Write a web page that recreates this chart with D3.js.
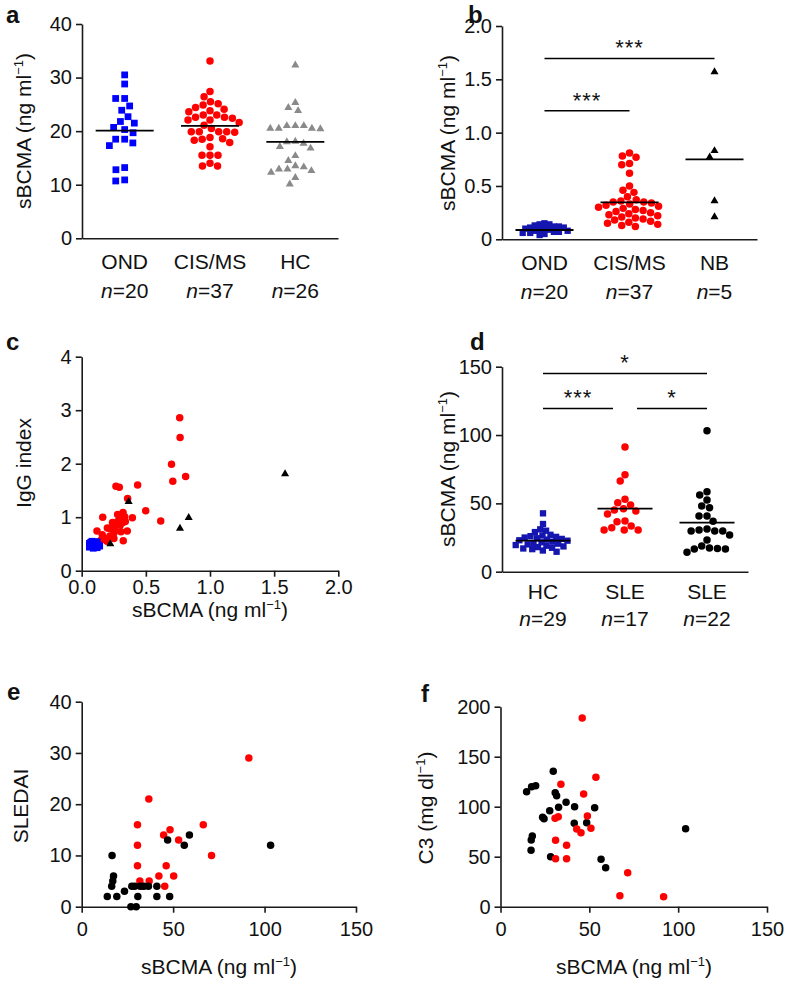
<!DOCTYPE html>
<html><head><meta charset="utf-8">
<script src="https://cdn.jsdelivr.net/npm/d3@7"></script>
<style>
body{margin:0;background:#fff}
svg text{font-family:"Liberation Sans",Arial,Helvetica,sans-serif;fill:#111}
</style>
</head><body>
<svg id="fig" width="788" height="981"></svg>
<script>
// ---------------- DATA ----------------
// Panel a
const aCategories = ["OND","CIS/MS","HC"];
const aN = ["20","37","26"];
const aOND = [30.5,28.8,26.1,26.1,24.7,23.9,22.7,21.5,21.8,20.3,20.7,19.7,18.5,18.5,17.8,17.3,13.2,12.8,10.7,10.9];
const aCIS = [33.1,27.4,26.4,25.1,25.5,24.9,24.4,24.1,23.8,23.6,23.0,23.0,22.6,22.4,22.1,22.1,22.6,21.1,21.6,20.5,19.9,19.9,19.9,19.9,19.8,18.8,18.5,18.3,18.6,17.9,17.1,15.5,15.5,15.5,14.0,13.5,13.5];
const aHC = [32.3,25.3,24.4,23.8,21.0,21.0,20.5,20.4,20.5,20.5,21.0,18.0,17.7,18.1,17.1,16.8,15.4,14.5,13.5,12.9,12.6,12.3,12.9,13.3,11.3,10.1];
const aLines = [20.1,21.0,18.0];
const aTicks = [0,10,20,30,40];

// Panel b
const bCategories = ["OND","CIS/MS","NB"];
const bN = ["20","37","5"];
const bOND = [0.15,0.14,0.14,0.13,0.12,0.12,0.11,0.11,0.10,0.10,0.09,0.09,0.08,0.08,0.07,0.07,0.06,0.06,0.05,0.04];
const bCIS = [0.81,0.78,0.77,0.71,0.70,0.62,0.50,0.46,0.44,0.40,0.37,0.36,0.35,0.35,0.34,0.33,0.32,0.31,0.30,0.29,0.28,0.27,0.26,0.25,0.24,0.23,0.22,0.21,0.20,0.19,0.18,0.17,0.16,0.15,0.14,0.13,0.12];
const bNB = [1.57,0.83,0.77,0.36,0.21];
const bLines = [0.087,0.347,0.75];
const bTicks = [0,0.5,1.0,1.5,2.0];
const bTickLabels = ["0","0.5","1.0","1.5","2.0"];
const bSig = [{from:0,to:1,label:"***",level:1.205},{from:0,to:2,label:"***",level:1.696}];

// Panel c
const cCisX = [0.764,0.767,0.70,0.71,0.81,0.267,0.293,0.436,0.358,0.499,0.616,0.322,0.335,0.395,0.164,0.28,0.30,0.34,0.247,0.215,0.306,0.355,0.119,0.16,0.251,0.324,0.197,0.15,0.20,0.25,0.30,0.22,0.18,0.28,0.32,0.26,0.24];
const cCisY = [2.86,2.49,1.99,1.67,1.76,1.58,1.56,1.60,1.35,1.12,0.93,1.09,1.01,0.99,1.00,0.92,0.95,0.92,0.84,0.79,0.73,0.74,0.74,0.67,0.60,0.56,0.55,0.57,0.80,0.70,0.85,0.65,0.60,1.05,0.90,0.75,0.90];
const cOndX = [0.06,0.07,0.08,0.09,0.10,0.11,0.12,0.13,0.07,0.08,0.09,0.10,0.11,0.12,0.06,0.08,0.10,0.12,0.14,0.09];
const cOndY = [0.44,0.49,0.47,0.51,0.46,0.49,0.45,0.48,0.53,0.55,0.42,0.54,0.52,0.43,0.51,0.45,0.50,0.54,0.46,0.48];
const cNbX = [0.366,0.834,0.766,1.585,0.223];
const cNbY = [1.29,0.99,0.79,1.81,0.50];
const cXTicks = [0,0.5,1.0,1.5,2.0];
const cXTickLabels = ["0.0","0.5","1.0","1.5","2.0"];
const cYTicks = [0,1,2,3,4];
const cYTickLabels = ["0","1","2","3","4"];

// Panel d
const dCategories = ["HC","SLE","SLE"];
const dN = ["29","17","22"];
const dHC = [42.7,34.9,31.0,30.0,29.0,27.0,26.5,26.0,25.5,25.0,24.5,24.0,23.5,23.0,22.7,22.0,21.5,21.0,20.5,20.0,19.5,19.0,18.5,18.0,17.5,17.0,16.5,15.5,14.6];
const dSLE1 = [91.2,71.0,66.3,53.0,50.5,48.8,46.1,44.4,42.2,45.2,37.1,36.6,33.4,30.5,30.5,30.5,32.2];
const dSLE2 = [103.2,58.5,56.1,52.5,48.1,46.8,40.7,40.7,36.9,30.5,29.8,31.3,29.8,29.8,26.8,23.2,17.3,16.6,14.2,16.6,17.0,18.8];
const dLines = [22.7,46.1,35.9];
const dTicks = [0,50,100,150];
const dSig = [{from:0,to:2,label:"*",level:145.1},{from:0,to:1,label:"***",level:119.5},{from:1,to:2,label:"*",level:119.5}];

// Panel e (sBCMA vs SLEDAI)
const eRedX = [91.4,36.7,30.5,30.5,66.5,44.8,48.3,53.0,71.0,30.5,46.2,42.2,50.3,31.8,36.9,45.4,33.0];
const eRedY = [29,21,16,12,16,14,15,13,10,8,8,6,6,5,5,4,4];
const eBlackX = [16.6,17.4,17.0,16.4,14.0,19.2,23.4,27.4,32.0,36.5,41.1,30.7,41.1,48.1,26.9,29.8,47.0,56.1,58.9,103.3,29.0,34.0];
const eBlackY = [10,6,5,4,2,2,3,4,4,4,4,2,2,2,0,0,13,12,14,12,4,4];
const eXTicks = [0,50,100,150];
const eYTicks = [0,10,20,30,40];

// Panel f (sBCMA vs C3)
const fRedX = [46.0,53.7,34.0,46.8,48.9,30.7,32.5,42.9,45.3,50.9,31.0,37.2,31.0,37.2,71.6,67.2,91.8];
const fRedY = [188.7,129.4,122.4,112.7,90.7,88.4,90.0,77.7,74.0,78.4,66.4,61.4,48.0,48.0,34.0,11.0,10.0];
const fBlackX = [29.7,14.7,17.5,19.8,30.8,31.6,36.9,32.7,41.7,53.0,27.7,23.7,41.5,48.5,104.2,17.9,17.3,17.2,28.2,56.6,59.2,24.5];
const fBlackY = [135.4,115,120,121,114,111,104.4,99.4,100,99,96,89.4,83.4,84,78,70.7,66.7,56.4,50,47.4,39,88];
const fXTicks = [0,50,100,150];
const fYTicks = [0,50,100,150,200];

// ---------------- DRAWING ----------------
const svg = d3.select("#fig");
const BLUE = "#0000ff", NAVY = "#1515b0", RED = "#ff0000", GRAY = "#8a8a8a", BLACK = "#000";
const AX = "#1a1a1a";
const TICKFS = 20, LABFS = 21;

const sq = d3.symbol().type(d3.symbolSquare).size(46);
const sqS = d3.symbol().type(d3.symbolSquare).size(40);
const circ = d3.symbol().type(d3.symbolCircle).size(44);
const tri = d3.symbol().type(d3.symbolTriangle).size(28);

function styleAxis(g){
  g.selectAll(".domain").attr("stroke",AX).attr("stroke-width",1.6);
  g.selectAll(".tick line").attr("stroke",AX).attr("stroke-width",1.6);
  g.selectAll(".tick text").attr("font-size",TICKFS).attr("font-family",'"Liberation Sans",Arial,sans-serif').attr("fill","#111");
}
function yAxis(y, x0, ticks, labels){
  const ax = d3.axisLeft(y).tickValues(ticks).tickSize(6).tickPadding(4).tickSizeOuter(0);
  if(labels) ax.tickFormat((d,i)=>labels[i]);
  const g = svg.append("g").attr("transform",`translate(${x0},0)`).call(ax);
  styleAxis(g); return g;
}
function xAxisLinear(x, y0, ticks, labels, pad){
  const ax = d3.axisBottom(x).tickValues(ticks).tickSize(6).tickPadding(pad).tickSizeOuter(0);
  if(labels) ax.tickFormat((d,i)=>labels[i]);
  const g = svg.append("g").attr("transform",`translate(0,${y0})`).call(ax);
  styleAxis(g); return g;
}
function xAxisPlain(x0,x1,y0){
  const s = d3.scaleLinear().range([x0,x1]);
  const g = svg.append("g").attr("transform",`translate(0,${y0})`).call(d3.axisBottom(s).tickValues([]).tickSizeOuter(0));
  styleAxis(g);
}
function letter(t,x,y){
  svg.append("text").attr("x",x).attr("y",y).attr("font-size",24).attr("font-weight","bold").text(t);
}
function yTitle(x,y,parts){
  const t = svg.append("text").attr("transform",`translate(${x},${y}) rotate(-90)`).attr("text-anchor","middle").attr("font-size",LABFS);
  addParts(t,parts);
}
function xTitle(x,y,parts){
  const t = svg.append("text").attr("x",x).attr("y",y).attr("text-anchor","middle").attr("font-size",LABFS);
  addParts(t,parts);
}
function addParts(t,parts){
  parts.forEach(p=>{
    if(p.sup){ t.append("tspan").attr("font-size",13).attr("dy",-8).text(p.sup); t.append("tspan").attr("dy",8).text(p.after||""); }
    else t.append("tspan").text(p.t);
  });
}
function catLabels(x, cats, ns, yA, yB){
  cats.forEach((c,i)=>{
    svg.append("text").attr("x",x(i)).attr("y",yA).attr("text-anchor","middle").attr("font-size",LABFS).text(c);
    const t = svg.append("text").attr("x",x(i)).attr("y",yB).attr("text-anchor","middle").attr("font-size",LABFS);
    t.append("tspan").attr("font-style","italic").text("n");
    t.append("tspan").text("="+ns[i]);
  });
}
function swarm(values, y, cx, d){
  const pts = values.map(v=>({v, y:y(v)})).sort((a,b)=>b.v-a.v);
  const placed = [];
  for(const p of pts){
    const cands = [0];
    for(const q of placed){
      const dy = p.y-q.y;
      if(Math.abs(dy)<d){ const dx=Math.sqrt(d*d-dy*dy); cands.push(q.dx+dx, q.dx-dx); }
    }
    cands.sort((a,b)=>Math.abs(a)-Math.abs(b)||a-b);
    for(const c of cands){
      if(placed.every(q=>(q.dx-c)*(q.dx-c)+(q.y-p.y)*(q.y-p.y)>=d*d-0.01)){ p.dx=c; break; }
    }
    placed.push(p);
  }
  return placed.map(p=>({x:cx+p.dx, y:p.y}));
}
function drawSwarm(values, y, cx, d, sym, color){
  svg.append("g").selectAll("path").data(swarm(values,y,cx,d)).join("path")
    .attr("transform",p=>`translate(${p.x},${p.y})`).attr("d",sym).attr("fill",color);
}
function medLine(cx, yv, half){
  svg.append("line").attr("x1",cx-half).attr("x2",cx+half).attr("y1",yv).attr("y2",yv).attr("stroke","#000").attr("stroke-width",1.8);
}
function sigBars(sig, x, y){
  sig.forEach(s=>{
    let x1 = x(s.from), x2 = x(s.to);
    sig.forEach(o=>{ if(o!==s && o.level===s.level){
      if(o.from===s.to) x2 -= 12;
      if(o.to===s.from) x1 += 12;
    }});
    const yy = y(s.level);
    svg.append("line").attr("x1",x1).attr("x2",x2).attr("y1",yy).attr("y2",yy).attr("stroke","#000").attr("stroke-width",1.5);
    svg.append("text").attr("x",(x1+x2)/2).attr("y",yy-3).attr("text-anchor","middle").attr("font-size",22).attr("letter-spacing",1).text(s.label);
  });
}
function scatter(xs, ys, x, y, sym, color){
  svg.append("g").selectAll("path").data(xs.map((v,i)=>[v,ys[i]])).join("path")
    .attr("transform",d=>`translate(${x(d[0])},${y(d[1])})`).attr("d",sym).attr("fill",color);
}
const sbcma = [{t:"sBCMA (ng ml"},{sup:"−1",after:")"}];

// ===== Panel a =====
{
  const y = d3.scaleLinear().domain([0,40]).range([238.3,24]);
  const xp = d3.scalePoint().domain(d3.range(3)).range([82,338]).padding(0.5);
  xAxisPlain(82,338,238.3);
  yAxis(y,82,aTicks);
  drawSwarm(aOND,y,xp(0),9,sq,BLUE);
  drawSwarm(aCIS,y,xp(1),8,circ,RED);
  drawSwarm(aHC,y,xp(2),8.5,tri,GRAY);
  [0,1,2].forEach(i=>medLine(xp(i),y(aLines[i]),29));
  catLabels(xp,aCategories,aN,269,298);
  yTitle(31,131,sbcma);
  letter("a",6,23);
}
// ===== Panel b =====
{
  const y = d3.scaleLinear().domain([0,2]).range([239.3,26]);
  const xp = d3.scalePoint().domain(d3.range(3)).range([502,757]).padding(0.5);
  xAxisPlain(502,757,239.3);
  yAxis(y,502,bTicks,bTickLabels);
  drawSwarm(bOND,y,xp(0),5,sqS,NAVY);
  drawSwarm(bCIS,y,xp(1),7.8,circ,RED);
  drawSwarm(bNB,y,xp(2),8,tri,BLACK);
  [0,1,2].forEach(i=>medLine(xp(i),y(bLines[i]),29));
  sigBars(bSig,xp,y);
  catLabels(xp,bCategories,bN,270,299);
  yTitle(455,133,sbcma);
  letter("b",468,23);
}
// ===== Panel c =====
{
  const x = d3.scaleLinear().domain([0,2]).range([81.7,338.3]);
  const y = d3.scaleLinear().domain([0,4]).range([570.7,356.7]);
  xAxisLinear(x,570.7,cXTicks,cXTickLabels,3);
  yAxis(y,81.7,cYTicks,cYTickLabels);
  scatter(cCisX,cCisY,x,y,circ,RED);
  scatter(cOndX,cOndY,x,y,sq,BLUE);
  scatter(cNbX,cNbY,x,y,tri,BLACK);
  xTitle(210,617,sbcma);
  yTitle(31,463,[{t:"IgG index"}]);
  letter("c",6,350);
}
// ===== Panel d =====
{
  const y = d3.scaleLinear().domain([0,150]).range([571.7,366.7]);
  const xp = d3.scalePoint().domain(d3.range(3)).range([502,748]).padding(0.5);
  xAxisPlain(502,748,571.7);
  yAxis(y,502,dTicks);
  drawSwarm(dHC,y,xp(0),6,sqS,NAVY);
  drawSwarm(dSLE1,y,xp(1),8,circ,RED);
  drawSwarm(dSLE2,y,xp(2),8,circ,BLACK);
  [0,1,2].forEach(i=>medLine(xp(i),y(dLines[i]),27.5));
  sigBars(dSig,xp,y);
  catLabels(xp,dCategories,dN,599,626);
  yTitle(455,469,sbcma);
  letter("d",470,350);
}
// ===== Panel e =====
{
  const x = d3.scaleLinear().domain([0,150]).range([81.7,356]);
  const y = d3.scaleLinear().domain([0,40]).range([906.7,701.7]);
  xAxisLinear(x,906.7,eXTicks,null,9);
  yAxis(y,81.7,eYTicks);
  scatter(eRedX,eRedY,x,y,circ,RED);
  scatter(eBlackX,eBlackY,x,y,circ,BLACK);
  xTitle(219,974,sbcma);
  yTitle(28,806,[{t:"SLEDAI"}]);
  letter("e",7,700);
}
// ===== Panel f =====
{
  const x = d3.scaleLinear().domain([0,150]).range([500.5,767]);
  const y = d3.scaleLinear().domain([0,200]).range([906.7,706.7]);
  xAxisLinear(x,906.7,fXTicks,null,9);
  yAxis(y,500.5,fYTicks);
  scatter(fBlackX,fBlackY,x,y,circ,BLACK);
  scatter(fRedX,fRedY,x,y,circ,RED);
  xTitle(634,974,sbcma);
  yTitle(433,808,[{t:"C3 (mg dl"},{sup:"−1",after:")"}]);
  letter("f",421,702);
}
</script>
</body></html>
